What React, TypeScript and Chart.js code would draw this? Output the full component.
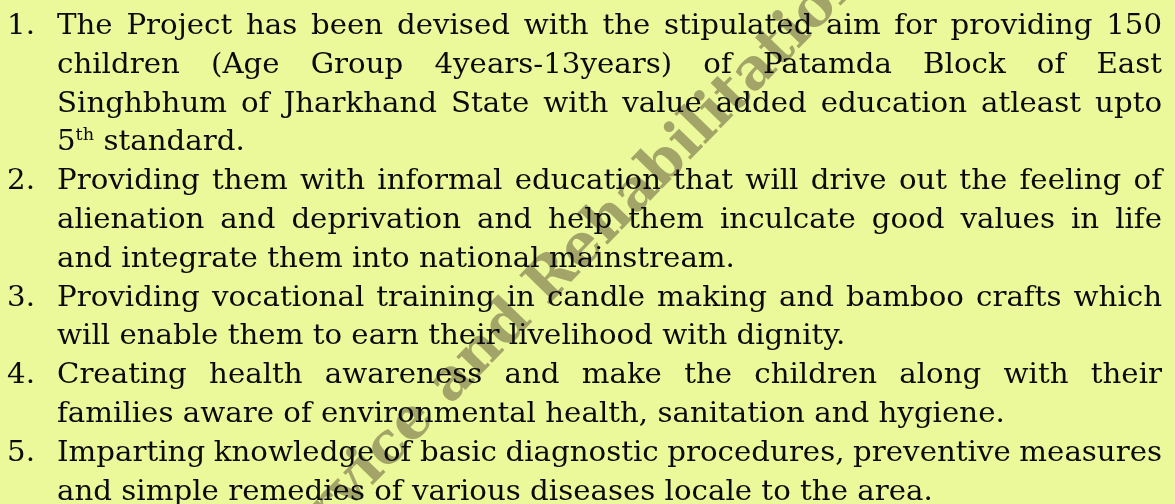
import React, { useEffect, useRef } from 'react';
import { Chart, registerables } from 'chart.js';

Chart.register(...registerables);

// ---- content ----
const itemNumbers = ['1.', '2.', '3.', '4.', '5.'];

const item1Lines = [
  'The Project has been devised with the stipulated aim for providing 150',
  'children (Age Group 4years-13years) of Patamda Block of East',
  'Singhbhum of Jharkhand State with value added education atleast upto',
  '5<sup>th</sup> standard.',
];
const item2Lines = [
  'Providing them with informal education that will drive out the feeling of',
  'alienation and deprivation and help them inculcate good values in life',
  'and integrate them into national mainstream.',
];
const item3Lines = [
  'Providing vocational training in candle making and bamboo crafts which',
  'will enable them to earn their livelihood with dignity.',
];
const item4Lines = [
  'Creating health awareness and make the children along with their',
  'families aware of environmental health, sanitation and hygiene.',
];
const item5Lines = [
  'Imparting knowledge of basic diagnostic procedures, preventive measures',
  'and simple remedies of various diseases locale to the area.',
];
const items = [item1Lines, item2Lines, item3Lines, item4Lines, item5Lines];

const watermarkText = 'Service and Rehabilitation';

// ---- style ----
const FONT_FAMILY = '"DejaVu Serif", serif';
const FONT_SIZE = 28;
const SUP_SIZE = 17;
const SUP_RAISE = 10;
const STRETCH = 1.045;
const LINE_HEIGHT = 38.8;
const FIRST_BASELINE = 34;
const NUM_RIGHT = 35;
const TEXT_LEFT = 57;
const TEXT_RIGHT = 1162;
const BG = '#ecf99b';
const INK = '#0b0b0b';
const WM_COLOR = '#a3a568';

type Part = { text: string; sup: boolean };

function parseLine(line: string): Part[][] {
  const words = line.split(' ');
  return words.map((w) => {
    const parts: Part[] = [];
    const re = /<sup>(.*?)<\/sup>/g;
    let last = 0;
    let m: RegExpExecArray | null;
    while ((m = re.exec(w))) {
      if (m.index > last) parts.push({ text: w.slice(last, m.index), sup: false });
      parts.push({ text: m[1], sup: true });
      last = m.index + m[0].length;
    }
    if (last < w.length) parts.push({ text: w.slice(last), sup: false });
    return parts;
  });
}

function wordWidth(ctx: CanvasRenderingContext2D, parts: Part[]) {
  let w = 0;
  for (const p of parts) {
    ctx.font = `${p.sup ? SUP_SIZE : FONT_SIZE}px ${FONT_FAMILY}`;
    w += ctx.measureText(p.text).width;
  }
  return w;
}

function drawWord(ctx: CanvasRenderingContext2D, parts: Part[], x: number, y: number) {
  let cx = x;
  for (const p of parts) {
    ctx.font = `${p.sup ? SUP_SIZE : FONT_SIZE}px ${FONT_FAMILY}`;
    ctx.fillText(p.text, cx, p.sup ? y - SUP_RAISE : y);
    cx += ctx.measureText(p.text).width;
  }
}

const docPlugin = {
  id: 'docPage',
  beforeDraw(chart: any) {
    const ctx: CanvasRenderingContext2D = chart.ctx;
    ctx.save();
    ctx.fillStyle = BG;
    ctx.fillRect(0, 0, chart.width, chart.height);
    ctx.restore();
  },
  afterDraw(chart: any) {
    const ctx: CanvasRenderingContext2D = chart.ctx;
    // watermark
    ctx.save();
    const theta = (-45.7 * Math.PI) / 180;
    const wmFont = (s: number) => `bold ${s}px ${FONT_FAMILY}`;
    const span = (s: number) => {
      ctx.font = wmFont(s);
      const pre = ctx.measureText('Servi').width + ctx.measureText('c').width / 2;
      const end = ctx.measureText('Service and Rehabilitatio').width - ctx.measureText('o').width / 2;
      return { pre, d: end - pre };
    };
    const base = span(56);
    const wmSize = (56 * 612) / base.d;
    const sp = span(wmSize);
    const xh = wmSize * 0.52;
    const bx = 388 + (xh / 2) * -Math.sin(theta);
    const by = 448 + (xh / 2) * Math.cos(theta);
    ctx.translate(bx, by);
    ctx.rotate(theta);
    ctx.fillStyle = WM_COLOR;
    ctx.textBaseline = 'alphabetic';
    ctx.fillText(watermarkText, -sp.pre, 0);
    ctx.restore();

    // text (slightly stretched horizontally)
    ctx.save();
    ctx.scale(STRETCH, 1);
    ctx.fillStyle = INK;
    ctx.textBaseline = 'alphabetic';
    const left = TEXT_LEFT / STRETCH;
    const avail = (TEXT_RIGHT - TEXT_LEFT) / STRETCH;
    let row = 0;
    items.forEach((lines, i) => {
      const y0 = FIRST_BASELINE + row * LINE_HEIGHT;
      ctx.font = `${FONT_SIZE}px ${FONT_FAMILY}`;
      ctx.textAlign = 'right';
      ctx.fillText(itemNumbers[i], NUM_RIGHT / STRETCH, y0);
      ctx.textAlign = 'left';
      lines.forEach((line, li) => {
        const y = FIRST_BASELINE + row * LINE_HEIGHT;
        const words = parseLine(line);
        const widths = words.map((w) => wordWidth(ctx, w));
        const total = widths.reduce((a, b) => a + b, 0);
        const justify = li < lines.length - 1 && words.length > 1;
        ctx.font = `${FONT_SIZE}px ${FONT_FAMILY}`;
        const gap = justify ? (avail - total) / (words.length - 1) : ctx.measureText(' ').width;
        let x = left;
        words.forEach((w, wi) => {
          drawWord(ctx, w, x, y);
          x += widths[wi] + gap;
        });
        row++;
      });
    });
    ctx.restore();
  },
};

export default function App() {
  const ref = useRef<HTMLCanvasElement>(null);
  useEffect(() => {
    if (!ref.current) return;
    const chart = new Chart(ref.current, {
      type: 'scatter',
      data: { datasets: [] },
      options: {
        animation: false,
        responsive: false,
        devicePixelRatio: 1,
        layout: { padding: 0 },
        plugins: { legend: { display: false }, tooltip: { enabled: false }, title: { display: false } },
        scales: { x: { display: false }, y: { display: false } },
      },
      plugins: [docPlugin],
    });
    return () => chart.destroy();
  }, []);
  return (
    <div style={{ position: 'fixed', left: 0, top: 0, width: 1175, height: 504, overflow: 'hidden' }}>
      <canvas ref={ref} width={1175} height={504} style={{ display: 'block', width: 1175, height: 504 }} />
    </div>
  );
}
